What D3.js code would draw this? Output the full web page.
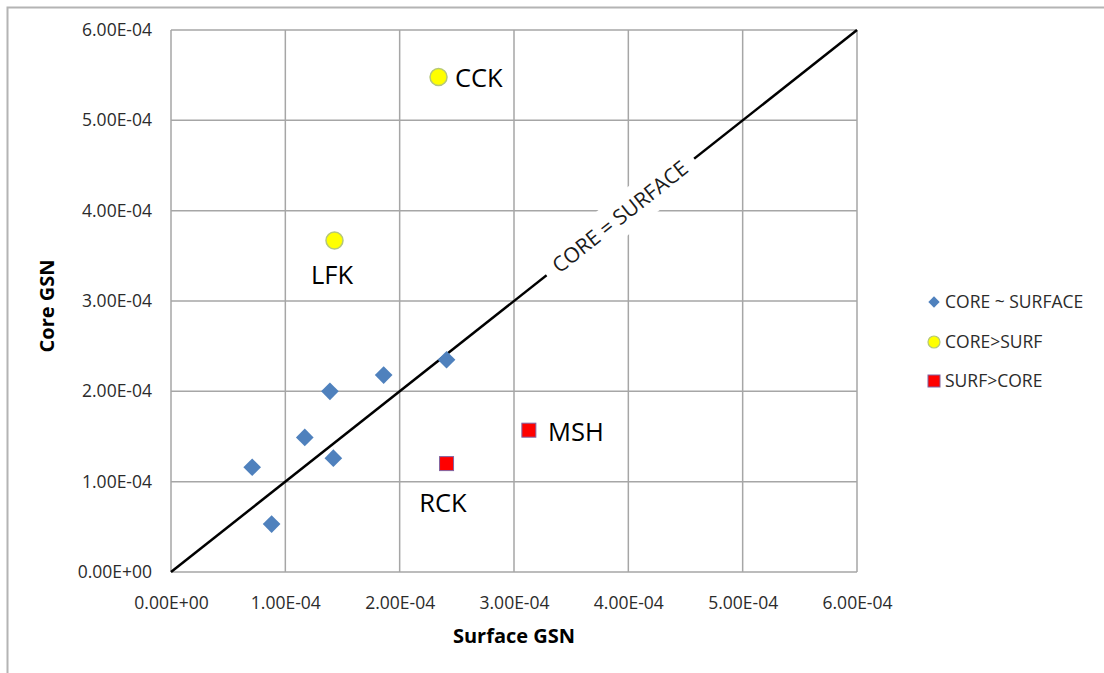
<!DOCTYPE html>
<html>
<head>
<meta charset="utf-8">
<script src="https://cdn.jsdelivr.net/npm/d3@7/dist/d3.min.js"></script>
<style>
  body { margin:0; background:#fff; }
  text { font-family: "Open Sans", "Noto Sans", sans-serif; }
</style>
</head>
<body>
<svg id="chart" width="1104" height="673"></svg>
<script>
// core vs surface GSN values
var similarPts = [
    {x:0.71e-4, y:1.16e-4},
    {x:0.88e-4, y:0.53e-4},
    {x:1.17e-4, y:1.49e-4},
    {x:1.39e-4, y:2.00e-4},
    {x:1.42e-4, y:1.26e-4},
    {x:1.86e-4, y:2.18e-4},
    {x:2.41e-4, y:2.35e-4}
];
var coreHigherPts = [
    {x:2.34e-4, y:5.48e-4, name:'CCK'},
    {x:1.43e-4, y:3.67e-4, name:'LFK'}
];
var surfHigherPts = [
    {x:3.13e-4, y:1.57e-4, name:'MSH'},
    {x:2.41e-4, y:1.20e-4, name:'RCK'}
];
var tickValues = [0,1e-4,2e-4,3e-4,4e-4,5e-4,6e-4];
var tickLabels = ['0.00E+00','1.00E-04','2.00E-04','3.00E-04','4.00E-04','5.00E-04','6.00E-04'];
var legendNames = ['CORE ~ SURFACE','CORE>SURF','SURF>CORE'];

var svg=d3.select('#chart');
var pad={left:171,top:30,right:857,bottom:572};

var xscale=d3.scaleLinear().domain([0,6e-4]).range([pad.left,pad.right]);
var yscale=d3.scaleLinear().domain([0,6e-4]).range([pad.bottom,pad.top]);

// outer frame
svg.append('path')
    .attr('d','M7.5,673 L7.5,7.5 L1104,7.5')
    .style('fill','none').style('stroke','#b4b4b4').style('stroke-width',2);

var grid=svg.append('g');
tickValues.forEach(function(v) {
    grid.append('line')
        .attr('x1',xscale(v)).attr('x2',xscale(v))
        .attr('y1',yscale(0)).attr('y2',yscale(6e-4))
        .style('stroke','#a6a6a6').style('stroke-width',1.5);
    grid.append('line')
        .attr('x1',xscale(0)).attr('x2',xscale(6e-4))
        .attr('y1',yscale(v)).attr('y2',yscale(v))
        .style('stroke','#a6a6a6').style('stroke-width',1.5);
});

// tick labels
var fmt=function(d) {return tickLabels[tickValues.indexOf(d)];};
var xaxis=d3.axisBottom(xscale).tickValues(tickValues).tickFormat(fmt).tickSize(0).tickPadding(25);
var yaxis=d3.axisLeft(yscale).tickValues(tickValues).tickFormat(fmt).tickSize(0).tickPadding(19);
var gx=svg.append('g').attr('transform','translate(0,'+pad.bottom+')').call(xaxis);
var gy=svg.append('g').attr('transform','translate('+pad.left+',0)').call(yaxis);
[gx,gy].forEach(function(g) {
    g.select('.domain').remove();
    g.attr('font-size',17.5).attr('font-family','"Open Sans", sans-serif');
    g.selectAll('text').attr('font-size',17.5).style('fill','#2b2b2b');
});

// axis titles
svg.append('text')
    .attr('x',514).attr('y',643)
    .style('text-anchor','middle').style('font-weight','bold').style('font-size','20px')
    .text('Surface GSN');
svg.append('text')
    .attr('transform','translate(54,306) rotate(-90)')
    .style('text-anchor','middle').style('font-weight','bold').style('font-size','20px')
    .text('Core GSN');

// CORE = SURFACE line
var line=d3.line().x(function(d) {return xscale(d[0]);}).y(function(d) {return yscale(d[1]);});
svg.append('path')
    .attr('d',line([[0,0],[6e-4,6e-4]]))
    .style('fill','none').style('stroke','#000').style('stroke-width',2.5);

var lx=xscale(3.93e-4), ly=yscale(3.93e-4);
var ang=-Math.atan2(yscale(0)-yscale(6e-4),xscale(6e-4)-xscale(0))*180/Math.PI;
var lg=svg.append('g').attr('transform','translate('+lx+','+ly+') rotate('+ang+')');
lg.append('rect').attr('x',-94).attr('y',-19).attr('width',188).attr('height',38).style('fill','#fff');
lg.append('text')
    .attr('y',7).style('text-anchor','middle').style('font-size','21px').style('fill','#1a1a1a')
    .text('CORE = SURFACE');

// point labels
var labelPos = {
    CCK:{x:455,y:87,anchor:'start'},
    LFK:{x:332,y:284,anchor:'middle'},
    MSH:{x:548,y:441,anchor:'start'},
    RCK:{x:443,y:512,anchor:'middle'}
};
var labelled=coreHigherPts.concat(surfHigherPts);
labelled.forEach(function(p) {
    var pos=labelPos[p.name];
    svg.append('text')
        .attr('x',pos.x).attr('y',pos.y)
        .style('text-anchor',pos.anchor).style('font-size','25.5px').style('fill','#000')
        .text(p.name);
});

// markers
var diamond=d3.symbol().type(d3.symbolSquare).size(156);
var marks=svg.append('g');
marks.selectAll('.dia').data(similarPts).enter().append('path')
    .attr('transform',function(d) {return 'translate('+xscale(d.x)+','+yscale(d.y)+') rotate(45)';})
    .attr('d',diamond)
    .style('fill','#4f81bd');
marks.selectAll('.circ').data(coreHigherPts).enter().append('circle')
    .attr('cx',function(d) {return xscale(d.x);})
    .attr('cy',function(d) {return yscale(d.y);})
    .attr('r',8.5)
    .style('fill','#ffff00').style('stroke','#b5c77a').style('stroke-width',1.5);
marks.selectAll('.sq').data(surfHigherPts).enter().append('rect')
    .attr('x',function(d) {return xscale(d.x)-7;})
    .attr('y',function(d) {return yscale(d.y)-7;})
    .attr('width',14).attr('height',14)
    .style('fill','#ff0000').style('stroke','#8064a2').style('stroke-width',1);

// legend
var leg=svg.append('g');
var legY=[302,342,381];
leg.append('path').attr('transform','translate(934,'+legY[0]+') rotate(45)')
    .attr('d',d3.symbol().type(d3.symbolSquare).size(64)).style('fill','#4f81bd');
leg.append('circle').attr('cx',934).attr('cy',legY[1]).attr('r',6)
    .style('fill','#ffff00').style('stroke','#b5c77a').style('stroke-width',1.2);
leg.append('rect').attr('x',928).attr('y',legY[2]-6).attr('width',12).attr('height',12)
    .style('fill','#ff0000').style('stroke','#8064a2').style('stroke-width',1);
legendNames.forEach(function(n,i) {
    leg.append('text').attr('x',945).attr('y',legY[i]+6)
        .style('font-size','17.5px').style('fill','#2b2b2b')
        .text(n);
});
</script>
</body>
</html>
